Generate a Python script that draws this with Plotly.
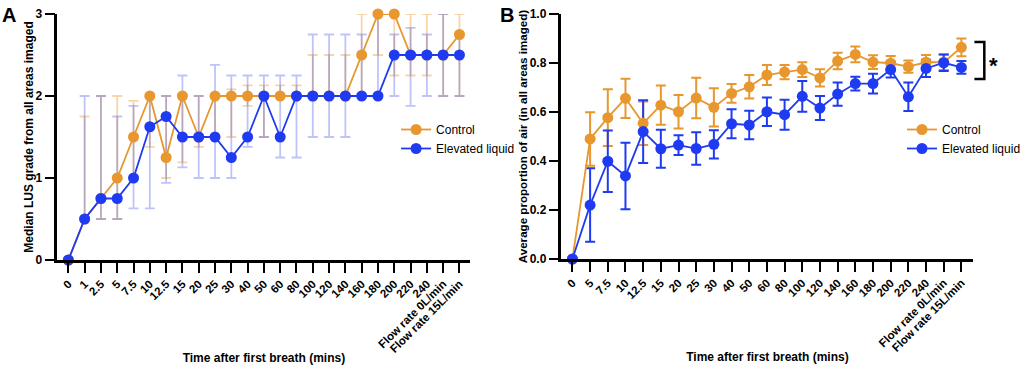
import plotly.graph_objects as go

# ---------------- Panel A data (median + range) ----------------
cats_a = ["0", "1", "2.5", "5", "7.5", "10", "12.5", "15", "20", "25", "30", "40", "50",
          "60", "80", "100", "120", "140", "160", "180", "200", "220", "240",
          "Flow rate 0L/min", "Flow rate 15L/min"]
ctrl_a = [0, 0.5, 0.75, 1.0, 1.5, 2.0, 1.25, 2.0, 1.5, 2.0, 2.0, 2.0, 2.0,
          2.0, 2.0, 2.0, 2.0, 2.0, 2.5, 3.0, 3.0, 2.5, 2.5, 2.5, 2.75]
ctrl_a_hi = [0, 1.75, 2.0, 2.0, 1.94, 2.0, 2.0, 2.0, 2.0, 2.0, 2.08, 2.13, 2.13,
             2.13, 2.13, 2.5, 2.5, 2.5, 3.0, 3.0, 3.0, 3.0, 3.0, 3.0, 3.0]
ctrl_a_lo = [0, 0.5, 0.5, 0.5, 1.0, 1.38, 1.0, 1.19, 1.38, 1.5, 1.5, 1.88, 1.5,
             2.0, 2.0, 2.0, 2.0, 2.0, 2.0, 2.5, 2.25, 2.25, 2.25, 2.0, 2.0]
elev_a = [0, 0.5, 0.75, 0.75, 1.0, 1.625, 1.75, 1.5, 1.5, 1.5, 1.25, 1.5, 2.0,
          1.5, 2.0, 2.0, 2.0, 2.0, 2.0, 2.0, 2.5, 2.5, 2.5, 2.5, 2.5]
elev_a_hi = [0, 2.0, 2.0, 1.75, 1.88, 2.0, 2.0, 2.25, 2.0, 2.38, 2.25, 2.25, 2.25,
             2.25, 2.25, 2.75, 2.75, 2.75, 2.75, 3.0, 2.75, 2.83, 2.75, 3.0, 2.75]
elev_a_lo = [0, 0.5, 0.5, 0.5, 0.63, 0.63, 0.94, 1.13, 1.0, 1.0, 1.0, 1.38, 1.5,
             1.25, 1.25, 1.5, 1.5, 1.5, 2.0, 2.0, 2.0, 1.88, 2.0, 2.0, 2.0]

# ---------------- Panel B data (mean +/- error) ----------------
cats_b = ["0", "5", "7.5", "10", "12.5", "15", "20", "25", "30", "40", "50", "60", "80",
          "100", "120", "140", "160", "180", "200", "220", "240",
          "Flow rate 0L/min", "Flow rate 15L/min"]
ctrl_b = [0, 0.49, 0.577, 0.656, 0.554, 0.628, 0.601, 0.657, 0.619, 0.676, 0.703, 0.751, 0.763,
          0.773, 0.739, 0.808, 0.835, 0.804, 0.799, 0.785, 0.803, 0.803, 0.864]
ctrl_b_err = [0, 0.109, 0.116, 0.08, 0.089, 0.08, 0.068, 0.083, 0.078, 0.038, 0.048, 0.041, 0.029,
              0.03, 0.035, 0.034, 0.032, 0.028, 0.03, 0.025, 0.03, 0.032, 0.036]
elev_b = [0, 0.22, 0.399, 0.339, 0.52, 0.45, 0.465, 0.451, 0.468, 0.552, 0.547, 0.601, 0.589,
          0.664, 0.616, 0.673, 0.716, 0.716, 0.773, 0.662, 0.778, 0.801, 0.782]
elev_b_err = [0, 0.15, 0.126, 0.136, 0.128, 0.078, 0.04, 0.066, 0.058, 0.059, 0.058, 0.058, 0.061,
              0.063, 0.049, 0.047, 0.028, 0.04, 0.032, 0.058, 0.035, 0.034, 0.026]

ORANGE = "#E8962E"
BLUE = "#1F3BF2"
FONT = "Liberation Sans"

fig = go.Figure()

# Panel A error bars (faded), drawn first
for vals, hi, lo, col in [(ctrl_a, ctrl_a_hi, ctrl_a_lo, "rgba(232,150,46,0.40)"),
                          (elev_a, elev_a_hi, elev_a_lo, "rgba(40,60,235,0.30)")]:
    fig.add_trace(go.Scatter(
        x=cats_a, y=vals, mode="markers", marker=dict(size=1, opacity=0),
        error_y=dict(type="data", symmetric=False,
                     array=[h - v for h, v in zip(hi, vals)],
                     arrayminus=[v - l for v, l in zip(vals, lo)],
                     color=col, thickness=1.8, width=5),
        showlegend=False, hoverinfo="skip", xaxis="x", yaxis="y", cliponaxis=False))

fig.add_trace(go.Scatter(x=cats_a, y=ctrl_a, mode="lines+markers", name="Control",
                         line=dict(color=ORANGE, width=1.8), marker=dict(color=ORANGE, size=11),
                         xaxis="x", yaxis="y", legend="legend", cliponaxis=False))
fig.add_trace(go.Scatter(x=cats_a, y=elev_a, mode="lines+markers", name="Elevated liquid",
                         line=dict(color=BLUE, width=1.8), marker=dict(color=BLUE, size=11),
                         xaxis="x", yaxis="y", legend="legend", cliponaxis=False))

# Panel B
for vals, err, col in [(ctrl_b, ctrl_b_err, ORANGE), (elev_b, elev_b_err, BLUE)]:
    fig.add_trace(go.Scatter(
        x=cats_b, y=vals, mode="markers", marker=dict(size=1, opacity=0),
        error_y=dict(type="data", array=err, color=col, thickness=2, width=5),
        showlegend=False, hoverinfo="skip", xaxis="x2", yaxis="y2", cliponaxis=False))

fig.add_trace(go.Scatter(x=cats_b, y=ctrl_b, mode="lines+markers", name="Control",
                         line=dict(color=ORANGE, width=1.8), marker=dict(color=ORANGE, size=11),
                         xaxis="x2", yaxis="y2", legend="legend2", cliponaxis=False))
fig.add_trace(go.Scatter(x=cats_b, y=elev_b, mode="lines+markers", name="Elevated liquid",
                         line=dict(color=BLUE, width=1.8), marker=dict(color=BLUE, size=11),
                         xaxis="x2", yaxis="y2", legend="legend2", cliponaxis=False))

W, H = 1026, 370


def px_x(p):
    return p / W


def px_y(p):
    return (H - p) / H


axis_common = dict(showline=True, linewidth=2.5, linecolor="black", ticks="outside",
                   ticklen=10, tickwidth=2, tickcolor="black", showgrid=False,
                   zeroline=False, automargin=False)
xtick_font = dict(family=FONT, size=11.5, color="black", weight="bold")
ytick_font = dict(family=FONT, size=12, color="black", weight="bold")
title_font = dict(family=FONT, size=12, color="black", weight="bold")

fig.update_layout(
    width=W, height=H, autosize=False, margin=dict(l=0, r=0, t=0, b=0),
    paper_bgcolor="white", plot_bgcolor="white",
    font=dict(family=FONT, color="black"),
    xaxis=dict(**axis_common, type="category", categoryorder="array", categoryarray=cats_a,
               range=[-0.67, 24.67], domain=[px_x(58), px_x(475)], anchor="y",
               tickangle=-45, tickfont=xtick_font,
               title=dict(text="Time after first breath (mins)", font=title_font, standoff=0)),
    yaxis=dict(**axis_common, range=[0, 3], domain=[px_y(260), px_y(14)], anchor="x",
               tickvals=[0, 1, 2, 3], tickfont=ytick_font,
               title=dict(text="Median LUS grade from all areas imaged", font=title_font, standoff=0)),
    xaxis2=dict(**axis_common, type="category", categoryorder="array", categoryarray=cats_b,
                range=[-0.62, 22.68], domain=[px_x(567), px_x(983)], anchor="y2",
                tickangle=-45, tickfont=xtick_font,
                title=dict(text="Time after first breath (mins)", font=title_font, standoff=0)),
    yaxis2=dict(**axis_common, range=[0, 1], domain=[px_y(259), px_y(14)], anchor="x2",
                tickvals=[0, 0.2, 0.4, 0.6, 0.8, 1.0], tickformat=".1f", tickfont=ytick_font,
                title=dict(text="Average proportion of air (in all areas imaged)",
                           font=dict(family=FONT, size=11.6, color="black", weight="bold"),
                           standoff=0)),
    legend=dict(x=px_x(400), y=px_y(115), xanchor="left", yanchor="top",
                bgcolor="rgba(0,0,0,0)", font=dict(family=FONT, size=12, color="black")),
    legend2=dict(x=px_x(911), y=px_y(115), xanchor="left", yanchor="top",
                 bgcolor="rgba(0,0,0,0)", font=dict(family=FONT, size=12, color="black")),
    showlegend=True,
)

# significance bracket
fig.add_shape(type="path", xref="paper", yref="y2",
              path=f"M {px_x(984)} 0.886 L {px_x(994)} 0.886 L {px_x(994)} 0.735 L {px_x(984)} 0.735",
              line=dict(color="black", width=2.5))
fig.add_annotation(x=px_x(1003), y=px_y(66), xref="paper", yref="paper", text="*",
                   xanchor="center", yanchor="middle", showarrow=False,
                   font=dict(family=FONT, size=22, color="black", weight="bold"))

# panel labels
fig.add_annotation(x=px_x(9), y=px_y(15), xref="paper", yref="paper", text="A",
                   xanchor="center", yanchor="middle", showarrow=False,
                   font=dict(family=FONT, size=20, color="black", weight="bold"))
fig.add_annotation(x=px_x(512), y=px_y(15), xref="paper", yref="paper", text="B",
                   xanchor="center", yanchor="middle", showarrow=False,
                   font=dict(family=FONT, size=20, color="black", weight="bold"))

# remove the default page margin / scrollbars so the figure fills the window exactly
fig.write_html("out.html",
               config={"responsive": False, "displayModeBar": False},
               post_script="document.body.style.margin='0px';"
                           "document.body.style.overflow='hidden';"
                           "document.documentElement.style.overflow='hidden';")
